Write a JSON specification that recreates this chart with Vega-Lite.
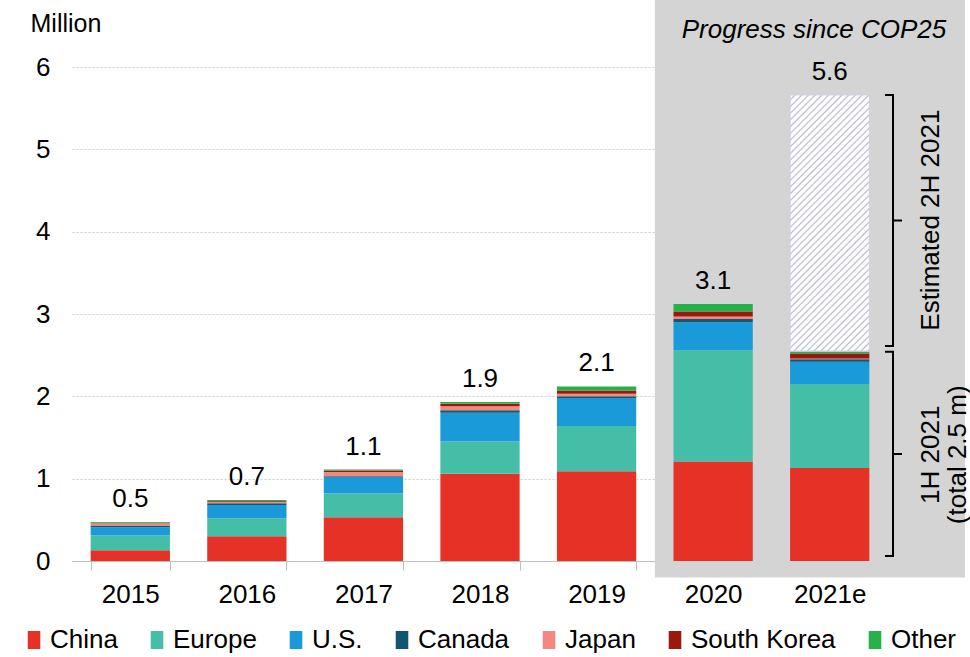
{
  "$schema": "https://vega.github.io/schema/vega-lite/v6.json",
  "width": 816,
  "height": 494,
  "autosize": {"type": "none"},
  "padding": {"left": 72, "top": 67, "right": 82, "bottom": 96},
  "background": "white",
  "config": {
    "font": "Liberation Sans",
    "view": {"stroke": null},
    "axisY": {"titleAngle": 0, "titleAlign": "left", "titleBaseline": "alphabetic", "titleX": -42, "titleY": -36, "titleFontSize": 25, "titleFontWeight": "normal", "titleColor": "black", "labelFontSize": 26, "labelColor": "black", "labelPadding": 22, "ticks": false, "domain": false, "grid": true, "gridColor": "#cccccc", "gridDash": [2, 2], "format": "d"}
  },
  "datasets": {
    "sales": [
      {"year": "2015", "region": "China", "value": 0.13},
      {"year": "2015", "region": "Europe", "value": 0.18},
      {"year": "2015", "region": "U.S.", "value": 0.10},
      {"year": "2015", "region": "Canada", "value": 0.02},
      {"year": "2015", "region": "Japan", "value": 0.03},
      {"year": "2015", "region": "South Korea", "value": 0.005},
      {"year": "2015", "region": "Other", "value": 0.01},
      {"year": "2016", "region": "China", "value": 0.30},
      {"year": "2016", "region": "Europe", "value": 0.22},
      {"year": "2016", "region": "U.S.", "value": 0.16},
      {"year": "2016", "region": "Canada", "value": 0.02},
      {"year": "2016", "region": "Japan", "value": 0.02},
      {"year": "2016", "region": "South Korea", "value": 0.01},
      {"year": "2016", "region": "Other", "value": 0.01},
      {"year": "2017", "region": "China", "value": 0.53},
      {"year": "2017", "region": "Europe", "value": 0.29},
      {"year": "2017", "region": "U.S.", "value": 0.20},
      {"year": "2017", "region": "Canada", "value": 0.01},
      {"year": "2017", "region": "Japan", "value": 0.05},
      {"year": "2017", "region": "South Korea", "value": 0.02},
      {"year": "2017", "region": "Other", "value": 0.01},
      {"year": "2018", "region": "China", "value": 1.06},
      {"year": "2018", "region": "Europe", "value": 0.39},
      {"year": "2018", "region": "U.S.", "value": 0.35},
      {"year": "2018", "region": "Canada", "value": 0.03},
      {"year": "2018", "region": "Japan", "value": 0.05},
      {"year": "2018", "region": "South Korea", "value": 0.03},
      {"year": "2018", "region": "Other", "value": 0.02},
      {"year": "2019", "region": "China", "value": 1.09},
      {"year": "2019", "region": "Europe", "value": 0.55},
      {"year": "2019", "region": "U.S.", "value": 0.34},
      {"year": "2019", "region": "Canada", "value": 0.02},
      {"year": "2019", "region": "Japan", "value": 0.03},
      {"year": "2019", "region": "South Korea", "value": 0.04},
      {"year": "2019", "region": "Other", "value": 0.05},
      {"year": "2020", "region": "China", "value": 1.21},
      {"year": "2020", "region": "Europe", "value": 1.35},
      {"year": "2020", "region": "U.S.", "value": 0.34},
      {"year": "2020", "region": "Canada", "value": 0.04},
      {"year": "2020", "region": "Japan", "value": 0.03},
      {"year": "2020", "region": "South Korea", "value": 0.06},
      {"year": "2020", "region": "Other", "value": 0.09},
      {"year": "2021e", "region": "China", "value": 1.13},
      {"year": "2021e", "region": "Europe", "value": 1.02},
      {"year": "2021e", "region": "U.S.", "value": 0.27},
      {"year": "2021e", "region": "Canada", "value": 0.03},
      {"year": "2021e", "region": "Japan", "value": 0.01},
      {"year": "2021e", "region": "South Korea", "value": 0.06},
      {"year": "2021e", "region": "Other", "value": 0.02}
    ],
    "regions": [
      {"region": "China", "rank": 1},
      {"region": "Europe", "rank": 2},
      {"region": "U.S.", "rank": 3},
      {"region": "Canada", "rank": 4},
      {"region": "Japan", "rank": 5},
      {"region": "South Korea", "rank": 6},
      {"region": "Other", "rank": 7}
    ],
    "totals": [
      {"year": "2015", "top": 0.475, "label": "0.5"},
      {"year": "2016", "top": 0.74, "label": "0.7"},
      {"year": "2017", "top": 1.11, "label": "1.1"},
      {"year": "2018", "top": 1.93, "label": "1.9"},
      {"year": "2019", "top": 2.12, "label": "2.1"},
      {"year": "2020", "top": 3.12, "label": "3.1"},
      {"year": "2021e", "top": 5.66, "label": "5.6"}
    ],
    "estimate": [{"year": "2021e", "lo": 2.55, "hi": 5.66}],
    "panel": [{"gx0": 5, "gx1": 7.66, "gy0": -0.2, "gy1": 6.82}],
    "brackets": [
      {"b": "1H", "i": 1, "bx": 6.974, "by": 0.06},
      {"b": "1H", "i": 2, "bx": 7.043, "by": 0.06},
      {"b": "1H", "i": 3, "bx": 7.043, "by": 1.30},
      {"b": "1H", "i": 4, "bx": 7.12, "by": 1.30},
      {"b": "1H", "i": 5, "bx": 7.043, "by": 1.30},
      {"b": "1H", "i": 6, "bx": 7.043, "by": 2.54},
      {"b": "1H", "i": 7, "bx": 6.974, "by": 2.54},
      {"b": "2H", "i": 1, "bx": 6.974, "by": 2.61},
      {"b": "2H", "i": 2, "bx": 7.043, "by": 2.61},
      {"b": "2H", "i": 3, "bx": 7.043, "by": 4.135},
      {"b": "2H", "i": 4, "bx": 7.12, "by": 4.135},
      {"b": "2H", "i": 5, "bx": 7.043, "by": 4.135},
      {"b": "2H", "i": 6, "bx": 7.043, "by": 5.66},
      {"b": "2H", "i": 7, "bx": 6.974, "by": 5.66}
    ],
    "sidetext": [
      {"tx": 7.373, "ty": 4.14, "t": "Estimated 2H 2021"},
      {"tx": 7.37, "ty": 1.29, "t": "1H 2021\n(total 2.5 m)"}
    ],
    "toptext": [{"tx": 6.365, "ty": 6.45, "t": "Progress since COP25"}]
  },
  "layer": [
    {
      "data": {"name": "panel"},
      "mark": {"type": "rect", "color": "#d4d4d4"},
      "encoding": {
        "x": {"field": "gx0", "type": "quantitative", "scale": {"domain": [0, 7], "nice": false, "zero": false}, "axis": null},
        "x2": {"field": "gx1"},
        "y": {"field": "gy0", "type": "quantitative", "title": "Million", "scale": {"domain": [0, 6], "nice": false}, "axis": {"values": [0, 1, 2, 3, 4, 5, 6]}},
        "y2": {"field": "gy1"}
      }
    },
    {
      "data": {"name": "sales"},
      "transform": [{"lookup": "region", "from": {"data": {"name": "regions"}, "key": "region", "fields": ["rank"]}}],
      "mark": {"type": "bar"},
      "encoding": {
        "x": {
          "field": "year", "type": "nominal",
          "scale": {"domain": ["2015", "2016", "2017", "2018", "2019", "2020", "2021e"], "paddingInner": 0.32, "paddingOuter": 0.16},
          "axis": {"title": null, "labelFontSize": 26, "labelColor": "black", "labelAngle": 0, "tickBand": "extent", "tickSize": 9, "tickColor": "#bfbfbf", "domainColor": "#bfbfbf", "labelPadding": 11, "grid": false}
        },
        "y": {"field": "value", "type": "quantitative", "stack": "zero", "title": "Million", "scale": {"domain": [0, 6], "nice": false}, "axis": {"values": [0, 1, 2, 3, 4, 5, 6]}},
        "order": {"field": "rank", "type": "quantitative", "sort": "ascending"},
        "color": {
          "field": "region", "type": "nominal",
          "sort": ["China", "Europe", "U.S.", "Canada", "Japan", "South Korea", "Other"],
          "scale": {"domain": ["China", "Europe", "U.S.", "Canada", "Japan", "South Korea", "Other"], "range": ["#e63126", "#44bea7", "#1a9ad9", "#10576f", "#f4877e", "#99190f", "#27b14b"]},
          "legend": {"orient": "none", "legendX": -51, "legendY": 560, "direction": "horizontal", "title": null, "symbolType": "M-0.7,-1H0.7V1H-0.7Z", "symbolSize": 324, "symbolStrokeWidth": 0, "labelFontSize": 26, "labelColor": "black", "columnPadding": 26, "labelOffset": 3}
        }
      }
    },
    {
      "data": {"name": "estimate"},
      "mark": {
        "type": "bar", "stroke": "#d0cfe0", "strokeWidth": 1,
        "fill": {
          "gradient": "linear", "x1": 0, "y1": 0, "x2": 0.37, "y2": 1.195,
          "stops": [
            {"offset": 0, "color": "#ffffff"}, {"offset": 0.01, "color": "#ffffff"}, {"offset": 0.015, "color": "#bdb7d9"},
            {"offset": 0.02, "color": "#ffffff"}, {"offset": 0.03, "color": "#ffffff"}, {"offset": 0.035, "color": "#bdb7d9"},
            {"offset": 0.04, "color": "#ffffff"}, {"offset": 0.05, "color": "#ffffff"}, {"offset": 0.055, "color": "#bdb7d9"},
            {"offset": 0.06, "color": "#ffffff"}, {"offset": 0.07, "color": "#ffffff"}, {"offset": 0.075, "color": "#bdb7d9"},
            {"offset": 0.08, "color": "#ffffff"}, {"offset": 0.09, "color": "#ffffff"}, {"offset": 0.095, "color": "#bdb7d9"},
            {"offset": 0.1, "color": "#ffffff"}, {"offset": 0.11, "color": "#ffffff"}, {"offset": 0.115, "color": "#bdb7d9"},
            {"offset": 0.12, "color": "#ffffff"}, {"offset": 0.13, "color": "#ffffff"}, {"offset": 0.135, "color": "#bdb7d9"},
            {"offset": 0.14, "color": "#ffffff"}, {"offset": 0.15, "color": "#ffffff"}, {"offset": 0.155, "color": "#bdb7d9"},
            {"offset": 0.16, "color": "#ffffff"}, {"offset": 0.17, "color": "#ffffff"}, {"offset": 0.175, "color": "#bdb7d9"},
            {"offset": 0.18, "color": "#ffffff"}, {"offset": 0.19, "color": "#ffffff"}, {"offset": 0.195, "color": "#bdb7d9"},
            {"offset": 0.2, "color": "#ffffff"}, {"offset": 0.21, "color": "#ffffff"}, {"offset": 0.215, "color": "#bdb7d9"},
            {"offset": 0.22, "color": "#ffffff"}, {"offset": 0.23, "color": "#ffffff"}, {"offset": 0.235, "color": "#bdb7d9"},
            {"offset": 0.24, "color": "#ffffff"}, {"offset": 0.25, "color": "#ffffff"}, {"offset": 0.255, "color": "#bdb7d9"},
            {"offset": 0.26, "color": "#ffffff"}, {"offset": 0.27, "color": "#ffffff"}, {"offset": 0.275, "color": "#bdb7d9"},
            {"offset": 0.28, "color": "#ffffff"}, {"offset": 0.29, "color": "#ffffff"}, {"offset": 0.295, "color": "#bdb7d9"},
            {"offset": 0.3, "color": "#ffffff"}, {"offset": 0.31, "color": "#ffffff"}, {"offset": 0.315, "color": "#bdb7d9"},
            {"offset": 0.32, "color": "#ffffff"}, {"offset": 0.33, "color": "#ffffff"}, {"offset": 0.335, "color": "#bdb7d9"},
            {"offset": 0.34, "color": "#ffffff"}, {"offset": 0.35, "color": "#ffffff"}, {"offset": 0.355, "color": "#bdb7d9"},
            {"offset": 0.36, "color": "#ffffff"}, {"offset": 0.37, "color": "#ffffff"}, {"offset": 0.375, "color": "#bdb7d9"},
            {"offset": 0.38, "color": "#ffffff"}, {"offset": 0.39, "color": "#ffffff"}, {"offset": 0.395, "color": "#bdb7d9"},
            {"offset": 0.4, "color": "#ffffff"}, {"offset": 0.41, "color": "#ffffff"}, {"offset": 0.415, "color": "#bdb7d9"},
            {"offset": 0.42, "color": "#ffffff"}, {"offset": 0.43, "color": "#ffffff"}, {"offset": 0.435, "color": "#bdb7d9"},
            {"offset": 0.44, "color": "#ffffff"}, {"offset": 0.45, "color": "#ffffff"}, {"offset": 0.455, "color": "#bdb7d9"},
            {"offset": 0.46, "color": "#ffffff"}, {"offset": 0.47, "color": "#ffffff"}, {"offset": 0.475, "color": "#bdb7d9"},
            {"offset": 0.48, "color": "#ffffff"}, {"offset": 0.49, "color": "#ffffff"}, {"offset": 0.495, "color": "#bdb7d9"},
            {"offset": 0.5, "color": "#ffffff"}, {"offset": 0.51, "color": "#ffffff"}, {"offset": 0.515, "color": "#bdb7d9"},
            {"offset": 0.52, "color": "#ffffff"}, {"offset": 0.53, "color": "#ffffff"}, {"offset": 0.535, "color": "#bdb7d9"},
            {"offset": 0.54, "color": "#ffffff"}, {"offset": 0.55, "color": "#ffffff"}, {"offset": 0.555, "color": "#bdb7d9"},
            {"offset": 0.56, "color": "#ffffff"}, {"offset": 0.57, "color": "#ffffff"}, {"offset": 0.575, "color": "#bdb7d9"},
            {"offset": 0.58, "color": "#ffffff"}, {"offset": 0.59, "color": "#ffffff"}, {"offset": 0.595, "color": "#bdb7d9"},
            {"offset": 0.6, "color": "#ffffff"}, {"offset": 0.61, "color": "#ffffff"}, {"offset": 0.615, "color": "#bdb7d9"},
            {"offset": 0.62, "color": "#ffffff"}, {"offset": 0.63, "color": "#ffffff"}, {"offset": 0.635, "color": "#bdb7d9"},
            {"offset": 0.64, "color": "#ffffff"}, {"offset": 0.65, "color": "#ffffff"}, {"offset": 0.655, "color": "#bdb7d9"},
            {"offset": 0.66, "color": "#ffffff"}, {"offset": 0.67, "color": "#ffffff"}, {"offset": 0.675, "color": "#bdb7d9"},
            {"offset": 0.68, "color": "#ffffff"}, {"offset": 0.69, "color": "#ffffff"}, {"offset": 0.695, "color": "#bdb7d9"},
            {"offset": 0.7, "color": "#ffffff"}, {"offset": 0.71, "color": "#ffffff"}, {"offset": 0.715, "color": "#bdb7d9"},
            {"offset": 0.72, "color": "#ffffff"}, {"offset": 0.73, "color": "#ffffff"}, {"offset": 0.735, "color": "#bdb7d9"},
            {"offset": 0.74, "color": "#ffffff"}, {"offset": 0.75, "color": "#ffffff"}, {"offset": 0.755, "color": "#bdb7d9"},
            {"offset": 0.76, "color": "#ffffff"}, {"offset": 0.77, "color": "#ffffff"}, {"offset": 0.775, "color": "#bdb7d9"},
            {"offset": 0.78, "color": "#ffffff"}, {"offset": 0.79, "color": "#ffffff"}, {"offset": 0.795, "color": "#bdb7d9"},
            {"offset": 0.8, "color": "#ffffff"}, {"offset": 0.81, "color": "#ffffff"}, {"offset": 0.815, "color": "#bdb7d9"},
            {"offset": 0.82, "color": "#ffffff"}, {"offset": 0.83, "color": "#ffffff"}, {"offset": 0.835, "color": "#bdb7d9"},
            {"offset": 0.84, "color": "#ffffff"}, {"offset": 0.85, "color": "#ffffff"}, {"offset": 0.855, "color": "#bdb7d9"},
            {"offset": 0.86, "color": "#ffffff"}, {"offset": 0.87, "color": "#ffffff"}, {"offset": 0.875, "color": "#bdb7d9"},
            {"offset": 0.88, "color": "#ffffff"}, {"offset": 0.89, "color": "#ffffff"}, {"offset": 0.895, "color": "#bdb7d9"},
            {"offset": 0.9, "color": "#ffffff"}, {"offset": 0.91, "color": "#ffffff"}, {"offset": 0.915, "color": "#bdb7d9"},
            {"offset": 0.92, "color": "#ffffff"}, {"offset": 0.93, "color": "#ffffff"}, {"offset": 0.935, "color": "#bdb7d9"},
            {"offset": 0.94, "color": "#ffffff"}, {"offset": 0.95, "color": "#ffffff"}, {"offset": 0.955, "color": "#bdb7d9"},
            {"offset": 0.96, "color": "#ffffff"}, {"offset": 0.97, "color": "#ffffff"}, {"offset": 0.975, "color": "#bdb7d9"},
            {"offset": 0.98, "color": "#ffffff"}, {"offset": 0.99, "color": "#ffffff"}, {"offset": 0.995, "color": "#bdb7d9"},
            {"offset": 1, "color": "#ffffff"}
          ]
        }
      },
      "encoding": {
        "x": {"field": "year", "type": "nominal", "scale": {"domain": ["2015", "2016", "2017", "2018", "2019", "2020", "2021e"], "paddingInner": 0.32, "paddingOuter": 0.16}, "axis": null},
        "y": {"field": "lo", "type": "quantitative", "title": "Million", "scale": {"domain": [0, 6], "nice": false}, "axis": {"values": [0, 1, 2, 3, 4, 5, 6]}},
        "y2": {"field": "hi"}
      }
    },
    {
      "data": {"name": "totals"},
      "mark": {"type": "text", "baseline": "alphabetic", "dy": -15, "fontSize": 26, "color": "black"},
      "encoding": {
        "x": {"field": "year", "type": "nominal", "scale": {"domain": ["2015", "2016", "2017", "2018", "2019", "2020", "2021e"], "paddingInner": 0.32, "paddingOuter": 0.16}, "axis": null},
        "y": {"field": "top", "type": "quantitative", "title": "Million", "scale": {"domain": [0, 6], "nice": false}, "axis": {"values": [0, 1, 2, 3, 4, 5, 6]}},
        "text": {"field": "label"}
      }
    },
    {
      "data": {"name": "brackets"},
      "mark": {"type": "line", "color": "black", "strokeWidth": 2},
      "encoding": {
        "x": {"field": "bx", "type": "quantitative", "scale": {"domain": [0, 7], "nice": false, "zero": false}, "axis": null},
        "y": {"field": "by", "type": "quantitative", "title": "Million", "scale": {"domain": [0, 6], "nice": false}, "axis": {"values": [0, 1, 2, 3, 4, 5, 6]}},
        "detail": {"field": "b"},
        "order": {"field": "i", "type": "quantitative"}
      }
    },
    {
      "data": {"name": "sidetext"},
      "mark": {"type": "text", "angle": 270, "align": "center", "baseline": "middle", "fontSize": 26, "lineHeight": 27, "lineBreak": "\n", "color": "black"},
      "encoding": {
        "x": {"field": "tx", "type": "quantitative", "scale": {"domain": [0, 7], "nice": false, "zero": false}, "axis": null},
        "y": {"field": "ty", "type": "quantitative", "title": "Million", "scale": {"domain": [0, 6], "nice": false}, "axis": {"values": [0, 1, 2, 3, 4, 5, 6]}},
        "text": {"field": "t"}
      }
    },
    {
      "data": {"name": "toptext"},
      "mark": {"type": "text", "align": "center", "baseline": "middle", "fontSize": 26, "fontStyle": "italic", "color": "black"},
      "encoding": {
        "x": {"field": "tx", "type": "quantitative", "scale": {"domain": [0, 7], "nice": false, "zero": false}, "axis": null},
        "y": {"field": "ty", "type": "quantitative", "title": "Million", "scale": {"domain": [0, 6], "nice": false}, "axis": {"values": [0, 1, 2, 3, 4, 5, 6]}},
        "text": {"field": "t"}
      }
    }
  ],
  "resolve": {"scale": {"x": "independent"}}
}
